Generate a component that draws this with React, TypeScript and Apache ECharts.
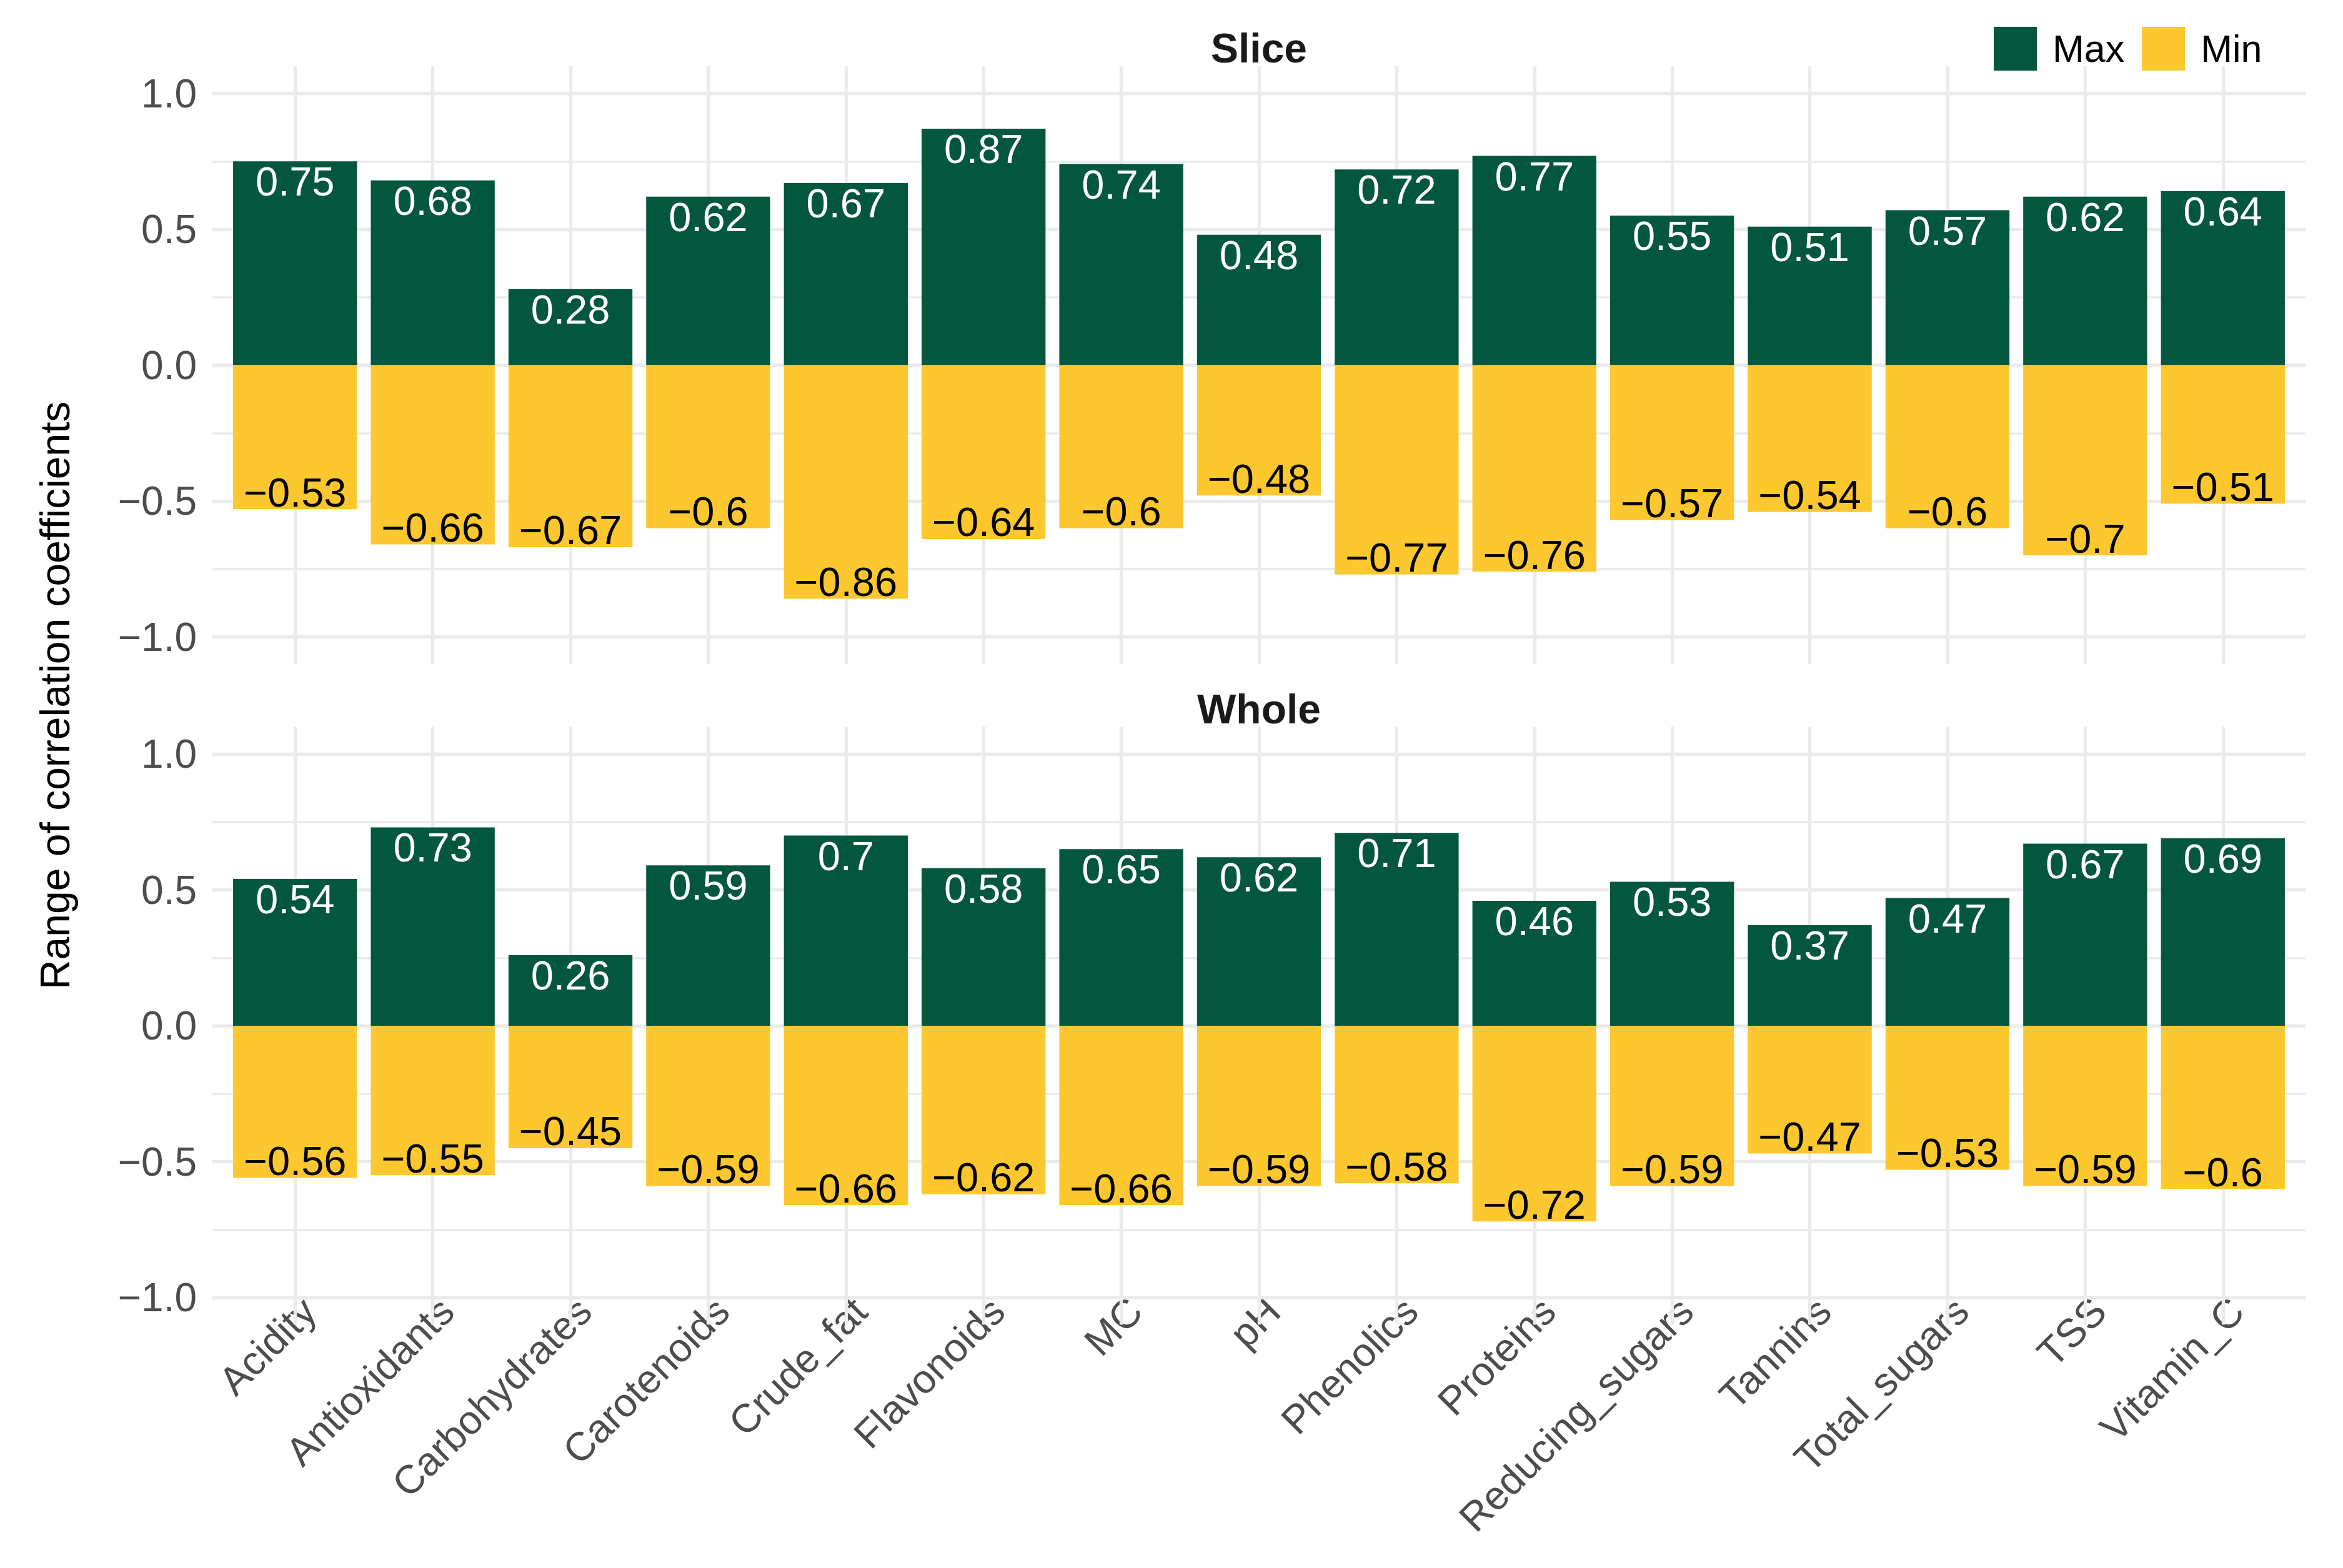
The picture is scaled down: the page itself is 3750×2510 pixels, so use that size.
import React, { useEffect, useRef } from "react";
import * as echarts from "echarts";

const categories = [
  "Acidity", "Antioxidants", "Carbohydrates", "Carotenoids", "Crude_fat",
  "Flavonoids", "MC", "pH", "Phenolics", "Proteins",
  "Reducing_sugars", "Tannins", "Total_sugars", "TSS", "Vitamin_C",
];
const panels = ["Slice", "Whole"];
const sliceMax = [0.75, 0.68, 0.28, 0.62, 0.67, 0.87, 0.74, 0.48, 0.72, 0.77, 0.55, 0.51, 0.57, 0.62, 0.64];
const sliceMin = [-0.53, -0.66, -0.67, -0.6, -0.86, -0.64, -0.6, -0.48, -0.77, -0.76, -0.57, -0.54, -0.6, -0.7, -0.51];
const wholeMax = [0.54, 0.73, 0.26, 0.59, 0.7, 0.58, 0.65, 0.62, 0.71, 0.46, 0.53, 0.37, 0.47, 0.67, 0.69];
const wholeMin = [-0.56, -0.55, -0.45, -0.59, -0.66, -0.62, -0.66, -0.59, -0.58, -0.72, -0.59, -0.47, -0.53, -0.59, -0.6];
const majorY = [-1, -0.5, 0, 0.5, 1];
const minorY = [-0.75, -0.25, 0.25, 0.75];
const yTitle = "Range of correlation coefficients";

const FONT = "'Liberation Sans', Arial, Helvetica, sans-serif";
const GREEN = "#03573F";
const YELLOW = "#FDC72F";
const GRID_COLOR = "#EBEBEB";

const GRID_LEFT = 340;
const GRID_WIDTH = 3350;
const GRID_TOPS = [106, 1163.5];
const GRID_HEIGHT = 957;

const fmt = (v: number) => String(Math.round(v * 100) / 100).replace("-", "\u2212");

export default function App() {
  const ref = useRef<HTMLDivElement>(null);
  useEffect(() => {
    if (!ref.current) return;
    const chart = echarts.init(ref.current, null, { renderer: "svg" });
    const maxData = [sliceMax, wholeMax];
    const minData = [sliceMin, wholeMin];

    const grids = panels.map((_, p) => ({
      left: GRID_LEFT,
      top: GRID_TOPS[p],
      width: GRID_WIDTH,
      height: GRID_HEIGHT,
      containLabel: false,
    }));

    const xAxes = panels.map((_, p) => ({
      type: "value",
      gridIndex: p,
      min: 0.4,
      max: 15.6,
      interval: 0.2,
      axisLine: { show: false, onZero: false },
      axisTick: { show: false },
      splitLine: { show: false },
      axisLabel: {
        show: p === 1,
        rotate: 45,
        align: "right",
        verticalAlign: "top",
        margin: -55,
        color: "#4D4D4D",
        fontSize: 64,
        fontFamily: FONT,
        showMinLabel: true,
        showMaxLabel: true,
        formatter: (v: number) => {
          const i = Math.round(v);
          if (Math.abs(v - i) < 1e-6 && i >= 1 && i <= categories.length) return categories[i - 1];
          return "";
        },
      },
    }));

    const yAxes = panels.map((_, p) => ({
      type: "value",
      gridIndex: p,
      min: -1.1,
      max: 1.1,
      interval: 0.05,
      axisLine: { show: false, onZero: false },
      axisTick: { show: false },
      splitLine: { show: false },
      axisLabel: {
        margin: 25,
        color: "#4D4D4D",
        fontSize: 64,
        fontFamily: FONT,
        formatter: (v: number) => {
          const r = Math.round(v * 2) / 2;
          if (Math.abs(v - r) < 1e-6 && Math.abs(r) <= 1) {
            return (r < 0 ? "\u2212" : "") + Math.abs(r).toFixed(1);
          }
          return "";
        },
      },
    }));

    const series: any[] = [];
    panels.forEach((_, p) => {
      series.push({
        type: "line",
        name: "grid" + p,
        xAxisIndex: p,
        yAxisIndex: p,
        data: [],
        z: 1,
        silent: true,
        markLine: {
          silent: true,
          z: 1,
          symbol: ["none", "none"],
          animation: false,
          label: { show: false },
          emphasis: { disabled: true },
          data: [
            ...minorY.map((y) => ({ yAxis: y, lineStyle: { color: GRID_COLOR, width: 3.5, type: "solid" } })),
            ...majorY.map((y) => ({ yAxis: y, lineStyle: { color: GRID_COLOR, width: 5.3, type: "solid" } })),
            ...categories.map((_, i) => ({ xAxis: i + 1, lineStyle: { color: GRID_COLOR, width: 5.3, type: "solid" } })),
          ],
        },
      });
      series.push({
        type: "bar",
        name: "Max",
        xAxisIndex: p,
        yAxisIndex: p,
        stack: "s" + p,
        barWidth: "90%",
        z: 2,
        itemStyle: { color: GREEN },
        data: maxData[p].map((v, i) => [i + 1, v]),
        label: {
          show: true,
          position: "insideTop",
          distance: 0,
          color: "#FFFFFF",
          fontSize: 65,
          fontFamily: FONT,
          formatter: (prm: any) => fmt(prm.value[1]),
        },
      });
      series.push({
        type: "bar",
        name: "Min",
        xAxisIndex: p,
        yAxisIndex: p,
        stack: "s" + p,
        barWidth: "90%",
        z: 2,
        itemStyle: { color: YELLOW },
        data: minData[p].map((v, i) => [i + 1, v]),
        label: {
          show: true,
          position: "insideBottom",
          distance: 0,
          offset: [0, 5.5],
          color: "#000000",
          fontSize: 65,
          fontFamily: FONT,
          formatter: (prm: any) => fmt(prm.value[1]),
        },
      });
    });

    const graphic: any[] = panels.map((name, p) => ({
      type: "text",
      x: GRID_LEFT + GRID_WIDTH / 2,
      y: GRID_TOPS[p] - 29,
      style: {
        text: name,
        fill: "#1A1A1A",
        fontSize: 66,
        fontWeight: "bold",
        fontFamily: FONT,
        textAlign: "center",
        textVerticalAlign: "middle",
        verticalAlign: "middle",
      },
    }));
    graphic.push({
      type: "text",
      x: 88,
      y: (GRID_TOPS[0] + GRID_TOPS[1] + GRID_HEIGHT) / 2,
      rotation: Math.PI / 2,
      style: {
        text: yTitle,
        fill: "#000000",
        fontSize: 66,
        fontFamily: FONT,
        textAlign: "center",
        textVerticalAlign: "middle",
        verticalAlign: "middle",
      },
    });

    chart.setOption({
      animation: false,
      backgroundColor: "#FFFFFF",
      textStyle: { fontFamily: FONT },
      grid: grids,
      xAxis: xAxes,
      yAxis: yAxes,
      legend: {
        data: ["Max", "Min"],
        left: 3191,
        top: 43,
        padding: 0,
        itemWidth: 69,
        itemHeight: 70,
        itemGap: 28,
        icon: "rect",
        selectedMode: false,
        textStyle: { fontSize: 61, color: "#000000", fontFamily: FONT, padding: [0, 0, 0, 20] },
      },
      graphic,
      series,
    });
    return () => chart.dispose();
  }, []);
  return (
    <div
      ref={ref}
      style={{ position: "fixed", left: 0, top: 0, width: 3750, height: 2510, background: "#fff" }}
    />
  );
}
